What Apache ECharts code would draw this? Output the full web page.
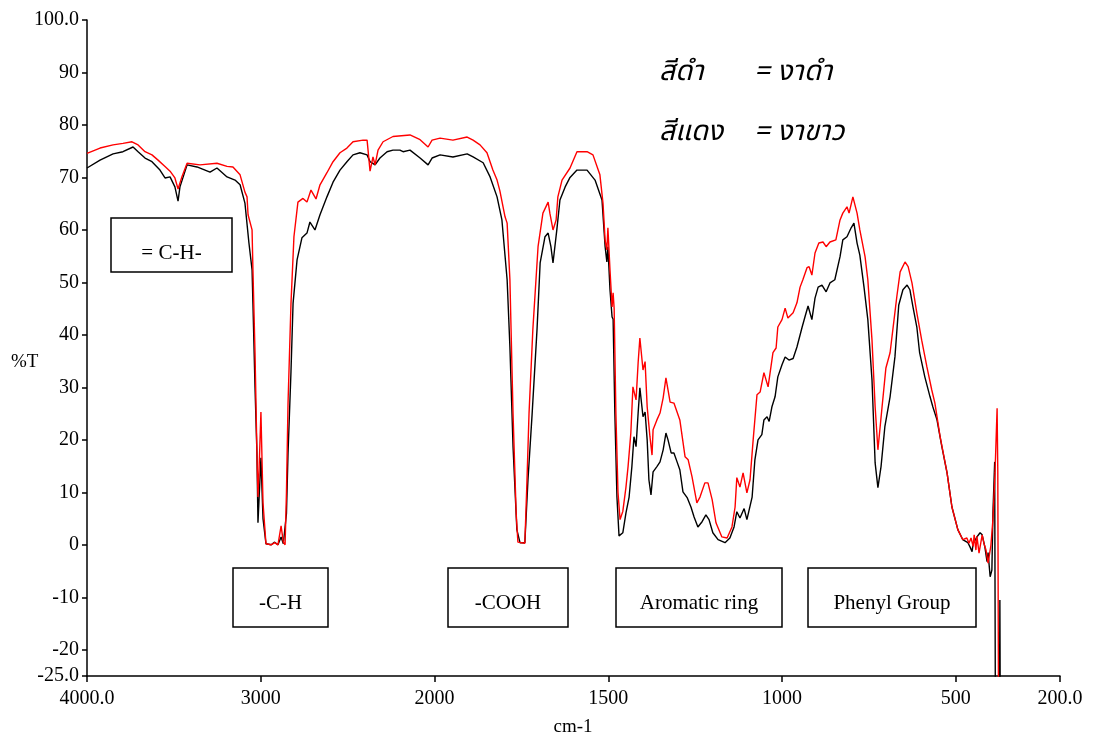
<!DOCTYPE html>
<html>
<head>
<meta charset="utf-8">
<script src="https://cdn.jsdelivr.net/npm/echarts@6/dist/echarts.min.js"></script>
<style>
  html, body { margin: 0; padding: 0; background: #fff; }
  #chart { width: 1095px; height: 738px; }
</style>
</head>
<body>
<div id="chart"></div>
<script>
// wavenumber (cm-1), %T
var blackSpectrum = [
  [4000,71.8],[3925,73.3],[3850,74.5],[3793,74.9],[3735,75.8],[3706,74.9],[3666,73.7],[3626,73.0],
  [3580,71.4],[3551,69.9],[3522,70.1],[3494,68.2],[3476,65.5],[3465,68.2],[3424,72.4],[3367,72.0],
  [3292,71.0],[3252,71.8],[3194,70.1],[3148,69.5],[3119,68.6],[3091,65.1],[3068,57.5],[3050,52.4],
  [3045,46.0],[3033,30.0],[3022,17.5],[3016,4.2],[3008,10.0],[2999,16.6],[2987,5.0],[2970,0.2],
  [2940,0.0],[2920,0.5],[2901,0.0],[2883,1.5],[2870,0.2],[2860,0.0],[2852,6.0],[2843,17.5],
  [2826,33.0],[2814,46.0],[2791,54.3],[2763,58.5],[2734,59.4],[2717,61.5],[2688,60.0],[2659,62.9],
  [2619,66.3],[2584,69.1],[2544,71.4],[2504,73.0],[2469,74.3],[2429,74.7],[2388,74.3],[2371,73.0],
  [2342,72.4],[2314,73.7],[2273,74.9],[2239,75.2],[2199,75.2],[2181,74.9],[2141,75.2],[2083,73.7],
  [2037,72.4],[2014,73.7],[1984,74.3],[1947,73.9],[1906,74.5],[1889,73.9],[1860,72.8],[1840,70.1],
  [1820,66.3],[1806,61.9],[1791,50.5],[1783,37.7],[1774,18.7],[1763,2.9],[1754,0.4],[1740,0.4],
  [1731,12.4],[1719,25.0],[1705,41.0],[1696,53.7],[1682,58.7],[1673,59.4],[1665,56.8],[1659,53.7],
  [1648,60.0],[1639,65.7],[1624,68.2],[1610,70.0],[1590,71.4],[1561,71.4],[1538,69.5],[1518,65.7],
  [1509,56.8],[1504,53.9],[1501,56.8],[1495,48.6],[1489,43.4],[1486,43.0],[1481,25.0],[1475,9.1],
  [1469,1.7],[1458,2.3],[1449,6.1],[1440,9.1],[1432,14.9],[1426,20.6],[1420,18.7],[1414,25.1],
  [1409,29.9],[1400,24.4],[1394,25.3],[1388,20.0],[1383,12.4],[1377,9.5],[1371,13.9],[1360,14.9],
  [1351,15.8],[1342,18.1],[1334,21.3],[1328,20.0],[1319,17.5],[1311,17.5],[1302,15.8],[1294,14.3],
  [1285,10.1],[1273,9.0],[1262,7.2],[1253,5.3],[1242,3.4],[1230,4.4],[1219,5.7],[1210,4.8],
  [1199,2.3],[1184,1.0],[1164,0.4],[1150,1.3],[1138,3.4],[1130,6.3],[1121,5.1],[1109,6.9],
  [1101,4.8],[1086,9.1],[1078,16.2],[1069,20.0],[1058,21.0],[1052,23.8],[1043,24.4],[1037,23.5],
  [1029,26.3],[1020,28.2],[1012,32.0],[1000,34.3],[991,35.8],[980,35.2],[968,35.5],[957,37.7],
  [942,41.5],[934,43.4],[925,45.5],[914,42.9],[905,47.0],[896,49.1],[885,49.5],[873,48.2],
  [862,49.9],[848,50.5],[833,54.9],[825,58.1],[813,58.7],[801,60.4],[793,61.3],[784,57.5],
  [776,55.2],[764,49.1],[753,42.9],[741,31.4],[732,15.6],[724,10.9],[715,14.9],[704,22.5],
  [689,28.2],[675,35.8],[664,45.7],[652,48.6],[640,49.5],[632,48.6],[623,45.3],[612,41.5],
  [604,36.6],[589,32.0],[574,28.2],[566,26.3],[554,23.8],[540,18.7],[525,13.7],[511,7.2],
  [494,2.9],[480,1.0],[465,0.4],[459,-0.4],[453,-1.3],[450,0.2],[439,1.5],[430,2.3],
  [424,1.9],[416,-0.5],[410,-3.2],[407,-1.5],[401,-6.1],[396,-4.8],[393,6.0],[388,15.8],
  [386,-30],[374,-30],[373,-10.5],[372,-30]
];

var redSpectrum = [
  [4000,74.6],[3925,75.6],[3850,76.2],[3793,76.5],[3741,76.8],[3706,76.2],[3666,74.9],[3626,74.3],
  [3591,73.3],[3551,72.1],[3522,71.2],[3494,69.9],[3476,67.8],[3453,70.2],[3424,72.7],[3350,72.4],
  [3252,72.7],[3194,72.1],[3160,72.0],[3119,70.5],[3091,67.2],[3079,66.3],[3073,62.9],[3050,60.0],
  [3045,52.4],[3033,36.6],[3022,17.5],[3016,9.1],[3008,16.0],[2999,25.3],[2987,8.0],[2970,0.2],
  [2940,0.0],[2920,0.4],[2901,0.0],[2883,3.6],[2870,0.5],[2860,0.0],[2852,10.0],[2843,27.0],
  [2826,46.0],[2809,58.7],[2786,65.3],[2757,66.0],[2734,65.3],[2711,67.6],[2682,65.9],[2659,68.6],
  [2619,70.9],[2584,73.0],[2544,74.7],[2504,75.6],[2469,76.8],[2411,77.1],[2388,77.1],[2371,71.2],
  [2354,73.9],[2342,72.4],[2325,75.2],[2296,76.8],[2239,77.8],[2141,78.1],[2083,77.2],[2037,75.8],
  [2014,77.1],[1984,77.5],[1947,77.1],[1906,77.7],[1889,77.1],[1869,76.2],[1849,74.7],[1832,71.4],
  [1820,69.5],[1812,67.5],[1797,62.5],[1791,61.3],[1783,50.5],[1774,25.0],[1765,6.0],[1760,0.5],
  [1740,0.3],[1734,12.0],[1728,25.0],[1717,41.0],[1702,56.8],[1688,63.2],[1673,65.3],[1668,63.2],
  [1659,60.0],[1650,61.9],[1645,66.3],[1633,69.5],[1610,71.8],[1590,74.9],[1561,74.9],[1544,74.3],
  [1524,70.5],[1515,65.0],[1509,58.0],[1504,56.2],[1501,60.4],[1495,52.4],[1489,45.3],[1486,48.0],
  [1483,45.0],[1478,25.0],[1472,10.0],[1466,4.8],[1458,6.4],[1449,11.0],[1443,14.9],[1435,21.3],
  [1429,30.1],[1420,27.6],[1414,34.7],[1409,39.4],[1400,33.3],[1394,34.9],[1388,26.3],[1380,20.6],
  [1374,17.1],[1371,21.9],[1360,23.8],[1351,25.1],[1342,28.0],[1334,31.8],[1328,29.5],[1322,27.2],
  [1311,27.0],[1302,25.3],[1294,23.8],[1279,16.8],[1270,16.2],[1259,13.0],[1245,8.0],[1236,9.1],
  [1222,11.8],[1213,11.8],[1201,8.6],[1190,4.2],[1173,1.5],[1158,1.3],[1144,3.4],[1135,7.2],
  [1130,12.8],[1121,11.0],[1112,13.7],[1101,9.9],[1092,12.4],[1083,20.0],[1072,28.6],[1063,29.1],
  [1052,32.8],[1040,30.1],[1026,36.6],[1017,37.5],[1012,41.5],[1000,42.9],[991,45.1],[983,43.2],
  [968,44.2],[957,46.1],[948,49.1],[940,50.5],[928,52.8],[922,53.0],[914,51.4],[905,55.6],
  [894,57.5],[882,57.7],[873,56.8],[862,57.7],[845,58.1],[833,61.9],[825,63.2],[813,64.4],
  [807,63.2],[796,66.3],[784,63.2],[776,60.0],[761,54.9],[753,50.5],[741,39.0],[732,26.3],
  [724,18.1],[712,26.3],[701,33.7],[689,36.6],[681,41.0],[669,47.6],[660,52.0],[646,53.9],
  [637,53.0],[626,49.9],[612,44.2],[598,39.0],[583,33.9],[569,29.5],[560,27.0],[545,20.6],
  [525,13.7],[511,7.2],[494,2.9],[480,1.0],[468,1.3],[462,0.3],[456,1.3],[450,-0.3],
  [447,1.9],[442,-1.0],[439,1.6],[433,-1.6],[424,1.9],[419,0.3],[413,-1.0],[407,-3.5],
  [399,-0.2],[393,4.8],[387,13.7],[381,26.0],[379,14.0],[377,-30]
];

var xTickWavenumbers = [4000, 3000, 2000, 1500, 1000, 500, 200];
var yTickValues = [-25, -20, -10, 0, 10, 20, 30, 40, 50, 60, 70, 80, 90, 100];
var bandLabels = ["= C-H-", "-C-H", "-COOH", "Aromatic ring", "Phenyl Group"];
var legendNames = ["สีดำ", "สีแดง"];
var legendMeanings = ["= งาดำ", "= งาขาว"];

// the x scale is doubled below 2000 cm-1, so map wavenumber to a linear position
function toPos(w) {
  return w >= 2000 ? (4000 - w) / 2 : 1000 + (2000 - w);
}
function toWn(p) {
  return p <= 1000 ? 4000 - 2 * p : 2000 - (p - 1000);
}
function convert(arr) {
  return arr.map(function (d) { return [toPos(d[0]), d[1]]; });
}

var serif = '"Liberation Serif", "Times New Roman", serif';
var thai = '"Noto Sans Thai", "Noto Sans", "DejaVu Sans", sans-serif';

// boxes: [left, top, width, height, textY]
var boxGeom = [
  [111, 218, 121, 54, 253],
  [233, 568, 95, 59, 603],
  [448, 568, 120, 59, 603],
  [616, 568, 166, 59, 603],
  [808, 568, 168, 59, 603]
];

var graphics = [];
bandLabels.forEach(function (txt, i) {
  var g = boxGeom[i];
  graphics.push({
    type: "rect",
    shape: { x: g[0], y: g[1], width: g[2], height: g[3] },
    style: { fill: "#fff", stroke: "#000", lineWidth: 1.5 },
    z: 1
  });
  graphics.push({
    type: "text",
    x: g[0] + g[2] / 2,
    y: g[4],
    style: {
      text: txt,
      font: "21px " + serif,
      fill: "#000",
      align: "center",
      verticalAlign: "middle"
    },
    z: 2
  });
});
legendNames.forEach(function (name, i) {
  graphics.push({
    type: "text", x: 659, y: 74 + i * 60,
    style: { text: name, font: "italic 28px " + thai, fill: "#000", verticalAlign: "middle" }
  });
  graphics.push({
    type: "text", x: 754, y: 74 + i * 60,
    style: { text: legendMeanings[i], font: "italic 28px " + thai, fill: "#000", verticalAlign: "middle" }
  });
});
graphics.push({
  type: "text", x: 11, y: 362,
  style: { text: "%T", font: "19px " + serif, fill: "#000", verticalAlign: "middle" }
});
graphics.push({
  type: "text", x: 573, y: 727,
  style: { text: "cm-1", font: "19px " + serif, fill: "#000", align: "center", verticalAlign: "middle" }
});

var xTickPos = xTickWavenumbers.map(toPos);

var chart = echarts.init(document.getElementById("chart"), null, { renderer: "canvas" });
var option = {
  animation: false,
  backgroundColor: "#fff",
  grid: { left: 87, right: 35, top: 20, bottom: 62, containLabel: false },
  xAxis: {
    type: "value",
    min: 0,
    max: 2800,
    splitLine: { show: false },
    axisLine: { onZero: false, lineStyle: { color: "#000", width: 1.5 } },
    axisTick: { customValues: xTickPos, length: 6, lineStyle: { color: "#000", width: 1.5 } },
    axisLabel: {
      customValues: xTickPos,
      color: "#000",
      fontFamily: serif,
      fontSize: 20,
      margin: 13,
      formatter: function (v) {
        var w = Math.round(toWn(v));
        return (w === 4000 || w === 200) ? w.toFixed(1) : String(w);
      }
    }
  },
  yAxis: {
    type: "value",
    min: -25,
    max: 100,
    splitLine: { show: false },
    axisLine: { show: true, onZero: false, lineStyle: { color: "#000", width: 1.5 } },
    axisTick: { show: true, customValues: yTickValues, length: 5, lineStyle: { color: "#000", width: 1.5 } },
    axisLabel: {
      customValues: yTickValues,
      color: "#000",
      fontFamily: serif,
      fontSize: 20,
      margin: 8,
      formatter: function (v) {
        return (v === 100 || v === -25) ? v.toFixed(1) : String(v);
      }
    }
  },
  series: [
    {
      name: "black",
      type: "line",
      data: convert(blackSpectrum),
      showSymbol: false,
      symbol: "none",
      lineStyle: { color: "#000", width: 1.4 },
      z: 3
    },
    {
      name: "red",
      type: "line",
      data: convert(redSpectrum),
      showSymbol: false,
      symbol: "none",
      lineStyle: { color: "#ff0000", width: 1.4 },
      z: 4
    }
  ],
  graphic: graphics
};
chart.setOption(option);
</script>
</body>
</html>
